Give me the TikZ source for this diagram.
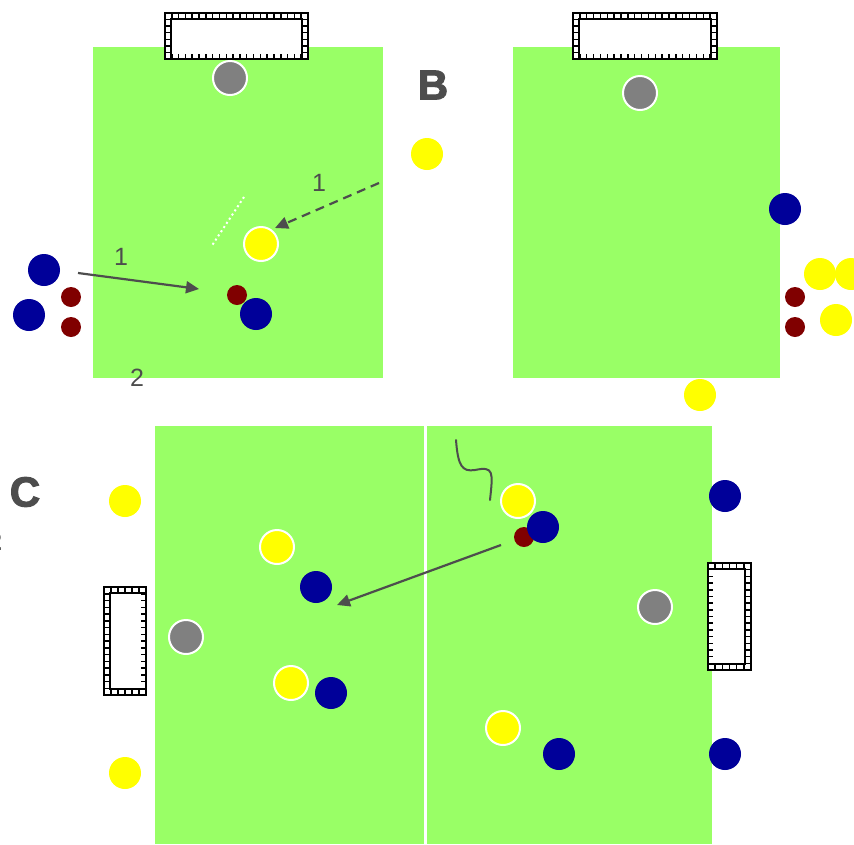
\documentclass[tikz,border=0pt]{standalone}
\usepackage{fontspec}
\setmainfont{Liberation Sans}
\newfontfamily\heavyfont[BoldFeatures={FakeBold=2.5}]{Liberation Sans}
\usetikzlibrary{arrows.meta}
\definecolor{pitch}{HTML}{99FF66}
\definecolor{pblue}{HTML}{000099}
\definecolor{pred}{HTML}{800000}
\definecolor{pyellow}{HTML}{FFFF00}
\definecolor{pgray}{HTML}{808080}
\definecolor{ink}{HTML}{4D4D4D}
\tikzset{
  field/.style={fill=pitch, draw=none},
  player/.style={circle, inner sep=0pt, minimum size=32pt},
  blueP/.style={player, fill=pblue},
  yellowP/.style={player, fill=pyellow},
  yellowB/.style={player, fill=pyellow, draw=white, line width=2pt, minimum size=34pt},
  keeper/.style={player, fill=pgray, draw=white, line width=2pt, minimum size=34pt},
  ball/.style={circle, inner sep=0pt, minimum size=20pt, fill=pred},
  lbl/.style={font=\fontsize{25}{25}\selectfont, text=ink, inner sep=0pt},
  big/.style={font=\heavyfont\fontsize{42}{42}\selectfont\bfseries, text=ink, inner sep=0pt},
  pass/.style={draw=ink, line width=2.2pt, -{Triangle[length=13pt,width=12pt]}},
  run/.style={pass, dash pattern=on 9pt off 6pt},
  goalline/.style={draw=black, line width=1.5pt},
}
\newcommand\goalH[4]{% x1 x2 yback yfront (back above front)
  \pgfmathtruncatemacro\gn{round((#2-#1)/6.8)}%
  \pgfmathsetmacro\gst{(#2-#1)/\gn}%
  \pgfmathtruncatemacro\gm{round((#4-#3)/6.8)}%
  \pgfmathsetmacro\gsd{(#4-#3)/\gm}%
  \fill[white] (#1,#3) rectangle (#2,#4);
  \draw[goalline] (#1,#3) rectangle (#2,#4);
  \draw[goalline] (#1+6,#4) -- (#1+6,#3+6) -- (#2-6,#3+6) -- (#2-6,#4);
  \foreach \i in {0,...,\gn} {\draw[goalline] (#1+\i*\gst,#3) -- (#1+\i*\gst,#3+6);
    \draw[goalline] (#1+\i*\gst,#4) -- (#1+\i*\gst,#4-5);}
  \foreach \i in {0,...,\gm} {\draw[goalline] (#1,#3+\i*\gsd) -- (#1+6,#3+\i*\gsd);
    \draw[goalline] (#2,#3+\i*\gsd) -- (#2-6,#3+\i*\gsd);}
}
\newcommand\goalV[4]{% xback xfront y1 y2
  \pgfmathsetmacro\gbi{#1+6*sign(#2-#1)}%
  \pgfmathsetmacro\gfi{#2-5*sign(#2-#1)}%
  \pgfmathtruncatemacro\gn{round((#4-#3)/6.8)}%
  \pgfmathsetmacro\gst{(#4-#3)/\gn}%
  \pgfmathtruncatemacro\gm{round(abs(#2-#1)/6.8)}%
  \pgfmathsetmacro\gsd{(#2-#1)/\gm}%
  \fill[white] (#1,#3) rectangle (#2,#4);
  \draw[goalline] (#1,#3) rectangle (#2,#4);
  \draw[goalline] (#2,#3+6) -- (\gbi,#3+6) -- (\gbi,#4-6) -- (#2,#4-6);
  \foreach \i in {0,...,\gn} {\draw[goalline] (#1,#3+\i*\gst) -- (\gbi,#3+\i*\gst);
    \draw[goalline] (#2,#3+\i*\gst) -- (\gfi,#3+\i*\gst);}
  \foreach \i in {0,...,\gm} {\draw[goalline] (#1+\i*\gsd,#3) -- (#1+\i*\gsd,#3+6);
    \draw[goalline] (#1+\i*\gsd,#4) -- (#1+\i*\gsd,#4-6);}
}
\begin{document}
\begin{tikzpicture}[x=1pt,y=-1pt]
\useasboundingbox (0,0) rectangle (854,844);
% fields
\fill[field] (93,47) rectangle (383,378);
\fill[field] (513,47) rectangle (780,378);
\fill[field] (155,426) rectangle (712,844);
\draw[white, line width=3pt] (425,426) -- (425,844);
% goals
\goalH{165}{308}{13}{59}
\goalH{573}{717}{13}{59}
\goalV{104}{146}{587}{695}
\goalV{751}{708}{563}{670}
% ---------- field A ----------
\node[keeper] (ka) at (230,78) {};
\node[yellowB] (ya1) at (261,244) {};
\node[ball] (ra1) at (237,295) {};
\node[blueP] (ba1) at (256,314) {};
\node[blueP] (ba2) at (44,270) {};
\node[blueP] (ba3) at (29,315) {};
\node[ball] (ra2) at (71,297) {};
\node[ball] (ra3) at (71,327) {};
\node[yellowP] (ya2) at (427,154) {};
\coordinate (p1s) at (78,273);
\coordinate (p1e) at (199,289);
\draw[pass] (p1s) -- (p1e);
\coordinate (r1s) at (379,183);
\coordinate (r1e) at (275,228);
\draw[run] (r1s) -- (r1e);
\coordinate (d1s) at (244,197);
\coordinate (d1e) at (211,247);
\draw[white, line width=2pt, dash pattern=on 2pt off 3pt] (d1s) -- (d1e);
\node[lbl] (l1) at (121,257) {1};
\node[lbl] (l2) at (319,183) {1};
\node[lbl] (l3) at (137,378) {2};
\node[big] (lB) at (433,85) {B};
% ---------- field B ----------
\node[keeper] (kb) at (640,93) {};
\node[blueP] (bb1) at (785,209) {};
\node[yellowP] (yb1) at (820,274) {};
\node[yellowP] (yb2) at (851,274) {};
\node[yellowP] (yb3) at (836,320) {};
\node[ball] (rb1) at (795,297) {};
\node[ball] (rb2) at (795,327) {};
\node[yellowP] (yb4) at (700,395) {};
% ---------- field C ----------
\node[big] (lC) at (25,492) {C};
\node[lbl, font=\fontsize{25}{25}\selectfont\bfseries] (l4) at (-5,542) {2};
\node[yellowP] (yc1) at (125,501) {};
\node[yellowB] (yc2) at (277,547) {};
\node[blueP] (bc1) at (316,587) {};
\node[keeper] (kc1) at (186,637) {};
\node[yellowB] (yc3) at (291,683) {};
\node[blueP] (bc2) at (331,693) {};
\node[yellowP] (yc4) at (125,773) {};
\node[yellowB] (yc5) at (518,501) {};
\node[ball] (rc1) at (524,537) {};
\node[blueP] (bc3) at (543,527) {};
\node[blueP] (bc4) at (725,496) {};
\node[keeper] (kc2) at (655,607) {};
\node[yellowB] (yc6) at (503,728) {};
\node[blueP] (bc5) at (559,754) {};
\node[blueP] (bc6) at (725,754) {};
\coordinate (p2s) at (501,545);
\coordinate (p2e) at (337,605);
\draw[pass] (p2s) -- (p2e);
\coordinate (s1) at (456,440);
\coordinate (s2) at (475,470);
\coordinate (s3) at (490,500);
\draw[ink, line width=2pt, line cap=round] (s1) .. controls (458,466) and (462,472) .. (s2) .. controls (494,466) and (493,472) .. (s3);
\end{tikzpicture}
\end{document}
